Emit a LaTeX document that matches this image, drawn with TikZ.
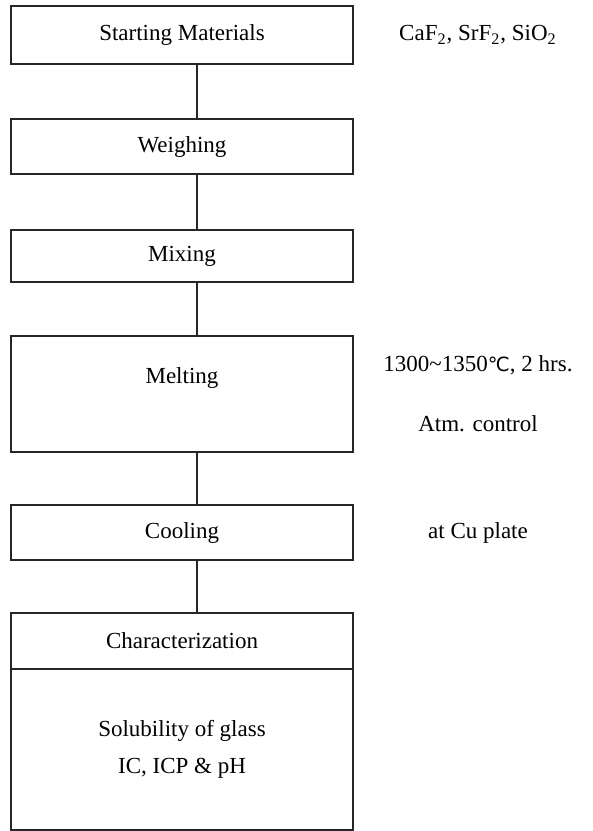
\documentclass[tikz,border=0pt]{standalone}
\usepackage{fontspec}
\setmainfont{Liberation Serif}
\newfontfamily\symfont{DejaVu Sans}[Scale=0.85]
\usetikzlibrary{positioning}

\begin{document}
\begin{tikzpicture}[
        node distance=27pt,
        font=\fontsize{11.5}{14}\selectfont,
        stepbox/.style={draw=black!85, rectangle, line width=0.6pt, minimum width=171pt, outer sep=0pt, inner sep=2pt, align=center},
        note/.style={align=center, inner sep=0pt},
        link/.style={draw=black!85, line width=0.6pt}
    ]
    \useasboundingbox (0,0) rectangle (296.5pt,-415.5pt);

    \node[stepbox, minimum height=29pt, anchor=north west] (start) at (5.5pt,-3pt) {Starting Materials};
    \node[stepbox, minimum height=27.5pt, below=27.5pt of start] (weigh) {Weighing};
    \node[stepbox, minimum height=26pt, below=28pt of weigh] (mix) {Mixing};
    \node[stepbox, minimum height=58pt, below=27pt of mix] (melt) {Melting\\[4pt]\mbox{}};
    \node[stepbox, minimum height=27.5pt, below=26.5pt of melt] (cool) {Cooling};
    \node[stepbox, minimum height=28pt, below=26.5pt of cool] (charhead) {Characterization};
    \node[stepbox, minimum height=80.5pt, below=0pt of charhead] (charbody) {Solubility of glass\\[4.5pt]IC, ICP \& pH};

    \node[note] (meltnote) at ([xshift=62.5pt]melt.east) {1300\textasciitilde1350{\symfont ℃}, 2 hrs.\\[16pt]Atm. control};
    \node[note] (matnote) at (meltnote |- start) {CaF\textsubscript{2}, SrF\textsubscript{2}, SiO\textsubscript{2}};
    \node[note] (platenote) at (meltnote |- cool) {at Cu plate};

    \draw[link] ([xshift=7.5pt]start.south) -- ([xshift=7.5pt]weigh.north);
    \draw[link] ([xshift=7.5pt]weigh.south) -- ([xshift=7.5pt]mix.north);
    \draw[link] ([xshift=7.5pt]mix.south) -- ([xshift=7.5pt]melt.north);
    \draw[link] ([xshift=7.5pt]melt.south) -- ([xshift=7.5pt]cool.north);
    \draw[link] ([xshift=7.5pt]cool.south) -- ([xshift=7.5pt]charhead.north);

\end{tikzpicture}
\end{document}
